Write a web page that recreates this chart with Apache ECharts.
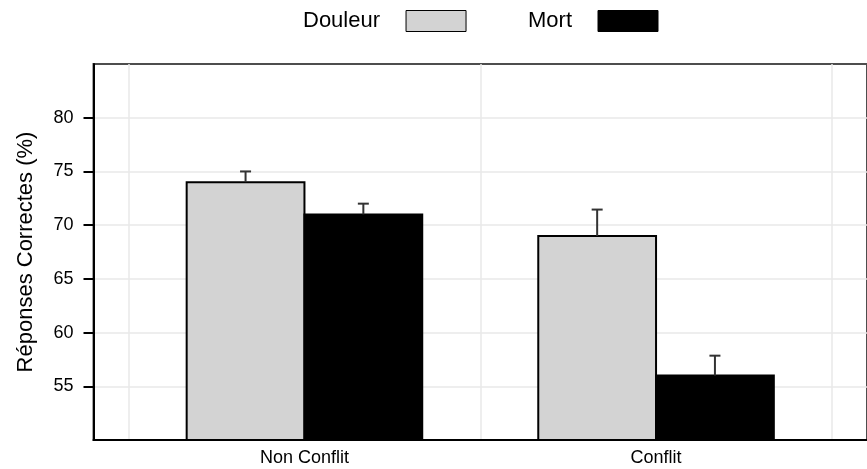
<!DOCTYPE html>
<html>
<head>
<meta charset="utf-8">
<script src="https://cdn.jsdelivr.net/npm/echarts@6/dist/echarts.min.js"></script>
<style>
html,body{margin:0;padding:0;background:#fff;}
#chart{width:867px;height:469px;}
</style>
</head>
<body>
<div id="chart"></div>
<script>
const categories = ['Non Conflit', 'Conflit'];
const categoryPos = [1, 2];
const douleurValues = [74, 69];
const douleurErrors = [1.0, 2.45];
const mortValues = [71, 56];
const mortErrors = [1.0, 1.85];
const yTicks = [55, 60, 65, 70, 75, 80];
const xGridValues = [0.5, 1.5, 2.5];

const FONT = '"Liberation Sans", Arial, Helvetica, sans-serif';
const BAR_W = 0.335;

function makeData(vals, errs) {
  return vals.map((v, i) => [categoryPos[i], v, errs[i]]);
}

function makeRender(side, fill) {
  return function (params, api) {
    const x = api.value(0), v = api.value(1), e = api.value(2);
    const x0 = side < 0 ? x - BAR_W : x;
    const x1 = side < 0 ? x : x + BAR_W;
    const pTL = api.coord([x0, v]);
    const pBR = api.coord([x1, 50]);
    const pTop = api.coord([x0 + BAR_W / 2, v + e]);
    const pMid = api.coord([x0 + BAR_W / 2, v]);
    return {
      type: 'group',
      children: [
        {
          type: 'rect',
          shape: { x: pTL[0], y: pTL[1], width: pBR[0] - pTL[0], height: pBR[1] - pTL[1] },
          style: { fill: fill, stroke: '#000', lineWidth: 2 }
        },
        {
          type: 'line',
          shape: { x1: pMid[0], y1: pMid[1], x2: pTop[0], y2: pTop[1] },
          style: { stroke: '#333', lineWidth: 2 }
        },
        {
          type: 'line',
          shape: { x1: pTop[0] - 5.5, y1: pTop[1], x2: pTop[0] + 5.5, y2: pTop[1] },
          style: { stroke: '#333', lineWidth: 2 }
        }
      ]
    };
  };
}

const chart = echarts.init(document.getElementById('chart'), null, { renderer: 'canvas' });

const legendCommon = {
  top: 10,
  padding: 0,
  align: 'right',
  itemWidth: 60,
  itemHeight: 21,
  selectedMode: false,
  textStyle: { fontFamily: FONT, fontSize: 22, color: '#000', padding: [4, 21, 0, 0] }
};

chart.setOption({
  animation: false,
  backgroundColor: '#fff',
  legend: [
    Object.assign({}, legendCommon, {
      left: 303,
      data: [{ name: 'Douleur', icon: 'rect', itemStyle: { color: '#d3d3d3', borderColor: '#000', borderWidth: 1 } }]
    }),
    Object.assign({}, legendCommon, {
      left: 528,
      data: [{ name: 'Mort', icon: 'rect', itemStyle: { color: '#000', borderColor: '#000', borderWidth: 1 } }]
    })
  ],
  grid: {
    left: 93.5,
    top: 64,
    width: 778,
    height: 376,
    show: true,
    borderColor: '#4d4d4d',
    borderWidth: 2,
    backgroundColor: 'transparent'
  },
  xAxis: {
    type: 'value',
    min: 0.4,
    max: 2.6,
    axisLine: { show: true, onZero: false, lineStyle: { color: '#000', width: 2 } },
    axisTick: { show: false, customValues: xGridValues },
    splitLine: { show: true, lineStyle: { color: '#e8e8e8', width: 1.5 } },
    axisLabel: {
      customValues: categoryPos,
      formatter: function (v) {
        const i = categoryPos.indexOf(v);
        return i >= 0 ? categories[i] : '';
      },
      fontFamily: FONT, fontSize: 18, color: '#000', margin: 9
    }
  },
  yAxis: {
    type: 'value',
    min: 50,
    max: 85,
    interval: 5,
    name: 'Réponses Correctes (%)',
    nameLocation: 'middle',
    nameRotate: 90,
    nameGap: 57,
    nameTextStyle: { fontFamily: FONT, fontSize: 22, color: '#000' },
    axisLine: { show: true, onZero: false, lineStyle: { color: '#000', width: 2 } },
    axisTick: { show: true, length: 10, customValues: yTicks, lineStyle: { color: '#000', width: 2 } },
    splitLine: { show: true, lineStyle: { color: '#e8e8e8', width: 1.5 } },
    axisLabel: {
      customValues: yTicks,
      fontFamily: FONT, fontSize: 18, color: '#000', margin: 20
    }
  },
  series: [
    {
      name: 'Douleur',
      type: 'custom',
      itemStyle: { color: '#d3d3d3' },
      renderItem: makeRender(-1, '#d3d3d3'),
      encode: { x: 0, y: 1 },
      data: makeData(douleurValues, douleurErrors),
      z: 3
    },
    {
      name: 'Mort',
      type: 'custom',
      itemStyle: { color: '#000' },
      renderItem: makeRender(1, '#000'),
      encode: { x: 0, y: 1 },
      data: makeData(mortValues, mortErrors),
      z: 3
    }
  ]
});
</script>
</body>
</html>
